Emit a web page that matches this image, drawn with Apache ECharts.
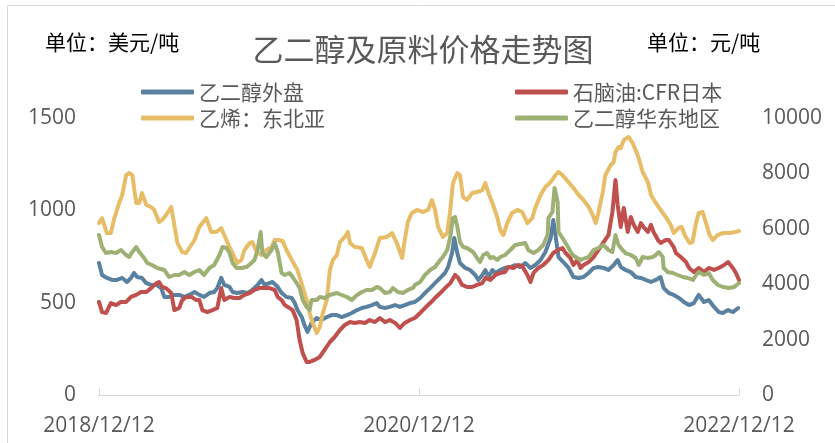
<!DOCTYPE html>
<html>
<head>
<meta charset="utf-8">
<script src="https://cdn.jsdelivr.net/npm/echarts@6/dist/echarts.min.js"></script>
<style>
  html, body { margin: 0; padding: 0; background: #fff; }
  #chart { width: 835px; height: 443px; }
</style>
</head>
<body>
<div id="chart"></div>
<script>
// x values are days counted from 2018/12/12
const xTickLabels = ['2018/12/12', '2020/12/12', '2022/12/12'];
const totalDays = 1461;

// 乙二醇外盘, USD/t
const megCfr = [[0,715],[7,650],[18,634],[30,623],[41,623],[53,634],[64,612],[73,634],[80,661],[87,639],[98,634],[108,606],[119,596],[131,596],[142,579],[149,531],[160,531],[172,542],[183,542],[195,531],[206,542],[218,558],[229,542],[240,531],[252,552],[263,558],[270,579],[279,634],[286,596],[298,585],[305,558],[316,552],[327,558],[339,552],[350,569],[362,596],[371,623],[378,596],[389,606],[396,612],[408,585],[417,552],[428,531],[440,525],[447,498],[453,460],[463,422],[469,379],[476,341],[485,390],[497,417],[508,406],[520,422],[531,433],[543,433],[554,422],[566,433],[577,444],[589,460],[600,471],[611,477],[623,487],[634,498],[641,477],[653,471],[664,477],[676,487],[687,477],[698,487],[710,498],[721,504],[733,525],[744,552],[756,579],[767,606],[779,634],[790,661],[797,693],[806,769],[811,850],[818,769],[824,715],[836,688],[847,677],[859,650],[866,623],[875,650],[882,677],[889,639],[898,677],[905,661],[916,677],[927,688],[939,693],[950,704],[962,693],[973,715],[985,688],[996,704],[1008,731],[1019,774],[1031,850],[1037,948],[1042,866],[1049,747],[1060,720],[1072,688],[1083,639],[1095,634],[1106,639],[1118,661],[1129,688],[1140,693],[1152,688],[1163,677],[1175,704],[1184,731],[1191,693],[1202,677],[1214,666],[1225,639],[1237,634],[1248,623],[1260,612],[1271,623],[1282,639],[1289,579],[1301,552],[1312,542],[1324,525],[1335,504],[1347,487],[1358,498],[1369,542],[1381,504],[1392,514],[1404,477],[1415,449],[1424,444],[1436,460],[1447,449],[1459,471]];

// 石脑油:CFR日本, USD/t
const naphtha = [[0,504],[7,449],[16,444],[27,498],[39,487],[50,504],[62,504],[73,531],[85,542],[96,558],[108,558],[119,579],[131,606],[137,612],[144,585],[153,579],[165,552],[172,460],[183,471],[190,514],[199,531],[211,531],[222,514],[229,514],[236,460],[247,449],[259,460],[270,471],[279,579],[286,514],[298,531],[309,525],[321,525],[332,542],[344,552],[355,569],[366,579],[378,579],[389,579],[401,569],[408,531],[417,514],[424,487],[431,477],[442,460],[451,406],[458,298],[465,227],[474,179],[481,179],[492,190],[504,206],[515,244],[527,287],[538,314],[550,352],[561,379],[573,395],[584,390],[595,395],[607,390],[618,406],[630,395],[641,417],[653,395],[664,406],[676,390],[687,363],[698,390],[710,406],[721,417],[733,444],[744,471],[756,498],[767,525],[779,552],[790,579],[802,606],[813,650],[820,634],[829,596],[840,585],[852,585],[863,596],[875,606],[882,634],[893,623],[905,650],[916,661],[927,666],[934,693],[946,688],[957,704],[966,699],[978,650],[985,612],[992,661],[1003,688],[1014,704],[1026,731],[1037,769],[1047,785],[1058,796],[1065,769],[1076,742],[1083,704],[1092,731],[1099,688],[1106,704],[1118,720],[1129,747],[1140,785],[1152,828],[1163,866],[1172,991],[1179,1164],[1184,1029],[1191,910],[1198,1013],[1207,883],[1214,964],[1221,921],[1230,883],[1237,931],[1243,910],[1253,883],[1260,921],[1266,883],[1276,839],[1282,823],[1294,839],[1301,839],[1312,801],[1317,769],[1328,747],[1340,720],[1347,688],[1358,666],[1369,688],[1381,666],[1392,688],[1404,677],[1415,688],[1427,704],[1436,720],[1447,688],[1454,661],[1461,623]];

// 乙烯：东北亚, USD/t
const ethylene = [[0,931],[7,958],[18,877],[27,877],[34,948],[46,1040],[53,1083],[62,1191],[69,1202],[76,1191],[85,1040],[92,1040],[98,1094],[108,1029],[119,1018],[126,1002],[137,937],[144,948],[153,975],[165,1018],[179,823],[190,774],[199,769],[206,796],[218,839],[229,910],[245,958],[256,883],[268,883],[279,904],[286,866],[298,801],[309,747],[316,715],[325,731],[332,785],[344,823],[350,828],[360,774],[371,758],[382,785],[394,801],[401,839],[412,839],[419,834],[428,785],[440,731],[453,677],[465,585],[474,514],[481,444],[488,390],[497,336],[504,368],[511,444],[520,514],[527,677],[534,731],[543,758],[550,828],[561,856],[568,883],[573,823],[584,801],[600,796],[611,731],[618,693],[630,769],[641,850],[657,856],[669,877],[680,823],[692,742],[698,839],[705,937],[714,986],[726,1002],[740,991],[751,1002],[760,1056],[767,1002],[774,910],[785,856],[795,877],[802,1002],[808,1148],[818,1202],[824,1191],[831,1072],[840,1056],[852,1094],[863,1099],[875,1110],[882,1148],[889,1094],[898,1040],[909,964],[916,893],[923,866],[932,931],[943,986],[955,1002],[966,991],[978,931],[989,958],[996,1013],[1008,1083],[1019,1126],[1031,1153],[1042,1191],[1049,1208],[1058,1191],[1072,1153],[1083,1121],[1095,1083],[1106,1056],[1118,1018],[1127,975],[1134,931],[1140,986],[1150,1099],[1156,1191],[1168,1245],[1175,1262],[1179,1316],[1186,1343],[1191,1337],[1198,1381],[1209,1397],[1218,1365],[1225,1327],[1232,1283],[1241,1208],[1253,1153],[1260,1083],[1271,1040],[1282,1002],[1294,964],[1305,921],[1312,877],[1323,904],[1330,910],[1337,866],[1348,823],[1355,828],[1362,921],[1369,986],[1378,991],[1385,937],[1394,866],[1401,839],[1412,866],[1424,877],[1440,877],[1453,883],[1461,888]];

// 乙二醇华东地区, CNY/t (right axis)
const megEastChina = [[0,5776],[7,5343],[16,5126],[27,5162],[39,5126],[50,5235],[62,5054],[69,4982],[76,5162],[85,5343],[92,5162],[103,4946],[110,4765],[121,4693],[133,4585],[149,4513],[160,4260],[172,4332],[183,4332],[195,4440],[206,4332],[218,4440],[229,4513],[240,4332],[252,4585],[263,4693],[275,5054],[282,5343],[291,5307],[298,5126],[305,4765],[314,4585],[325,4585],[337,4621],[348,4765],[355,4874],[362,5235],[369,5884],[373,5126],[382,4982],[394,5235],[401,5487],[408,5162],[417,4404],[424,4332],[435,4404],[442,4260],[451,4043],[458,3863],[465,3430],[474,3177],[481,3069],[485,3430],[497,3430],[504,3538],[515,3502],[527,3610],[543,3682],[554,3610],[566,3538],[577,3430],[589,3610],[600,3718],[611,3791],[623,3791],[634,3899],[641,3863],[653,3682],[664,3718],[671,3863],[682,3718],[694,3682],[705,3791],[717,3863],[721,3971],[733,4079],[744,4332],[756,4513],[767,4621],[779,4874],[785,4982],[795,5235],[802,5704],[808,6390],[813,6426],[818,6065],[824,5523],[831,5343],[840,5307],[847,5235],[854,5162],[863,4946],[870,4801],[877,5054],[886,5126],[893,4946],[900,4982],[909,4874],[916,4982],[927,5054],[939,5235],[950,5415],[962,5451],[973,5487],[980,5235],[992,5126],[1003,5235],[1014,5415],[1024,5776],[1026,6390],[1035,6606],[1040,7473],[1047,6967],[1049,5884],[1058,5668],[1065,5487],[1072,5307],[1081,5054],[1088,4982],[1099,4874],[1111,4946],[1118,4982],[1129,5235],[1140,5307],[1152,5415],[1163,5235],[1172,5162],[1179,5776],[1186,5415],[1195,5235],[1202,5126],[1214,5054],[1225,4946],[1232,4693],[1241,4982],[1253,4946],[1264,4982],[1271,5054],[1278,5162],[1287,4982],[1289,4585],[1298,4440],[1310,4404],[1321,4332],[1333,4260],[1344,4224],[1356,4152],[1363,4332],[1369,4440],[1381,4332],[1392,4404],[1401,4152],[1413,3971],[1424,3899],[1438,3863],[1450,3899],[1461,4043]];

const seriesNames = ['乙二醇外盘', '石脑油:CFR日本', '乙烯：东北亚', '乙二醇华东地区'];
const seriesColors = ['#5a82a0', '#c0504d', '#e8bd68', '#9fb075'];
const seriesData = [megCfr, naphtha, ethylene, megEastChina];
const seriesAxis = [0, 0, 0, 1];

const textColor = '#595959';
const numFont = "'Open Sans', 'Noto Sans CJK SC', sans-serif";
const cjkFont = "'Noto Sans CJK SC', 'Open Sans', sans-serif";

const legendSlots = [
  { left: 141, top: 81 },
  { left: 515, top: 81 },
  { left: 141, top: 107 },
  { left: 515, top: 107 }
];

const chart = echarts.init(document.getElementById('chart'));

chart.setOption({
  backgroundColor: '#ffffff',
  animation: false,
  graphic: [
    {
      type: 'rect',
      silent: true,
      shape: { x: 7.5, y: 5.5, width: 840, height: 450 },
      style: { fill: 'none', stroke: '#d9d9d9', lineWidth: 1 }
    },
    {
      type: 'text',
      x: 423, y: 49,
      style: {
        text: '乙二醇及原料价格走势图',
        fill: textColor,
        font: '31px ' + cjkFont,
        textAlign: 'center',
        textVerticalAlign: 'middle'
      }
    },
    {
      type: 'text',
      x: 45, y: 42,
      style: {
        text: '单位：美元/吨',
        fill: '#000000',
        font: '21px ' + cjkFont,
        textAlign: 'left',
        textVerticalAlign: 'middle'
      }
    },
    {
      type: 'text',
      x: 647, y: 42,
      style: {
        text: '单位：元/吨',
        fill: '#000000',
        font: '21px ' + cjkFont,
        textAlign: 'left',
        textVerticalAlign: 'middle'
      }
    }
  ],
  legend: seriesNames.map((name, i) => ({
    data: [name],
    left: legendSlots[i].left,
    top: legendSlots[i].top,
    padding: 0,
    icon: 'roundRect',
    itemWidth: 53,
    itemHeight: 5,
    itemGap: 0,
    textStyle: {
      color: textColor,
      fontSize: 21,
      lineHeight: 22,
      fontFamily: cjkFont
    }
  })),
  grid: { left: 99, right: 96, top: 118, bottom: 48, containLabel: false },
  xAxis: {
    type: 'value',
    min: 0,
    max: totalDays,
    interval: totalDays / 2,
    axisLine: { show: true, lineStyle: { color: '#d9d9d9', width: 1 } },
    axisTick: { show: true, inside: true, length: 7, lineStyle: { color: '#d9d9d9' } },
    splitLine: { show: false },
    axisLabel: {
      margin: 21,
      color: textColor,
      fontSize: 21,
      fontFamily: numFont,
      showMinLabel: true,
      showMaxLabel: true,
      formatter: (v) => xTickLabels[Math.round(v / (totalDays / 2))]
    }
  },
  yAxis: [
    {
      type: 'value',
      min: 0, max: 1500, interval: 500,
      axisLine: { show: false },
      axisTick: { show: false },
      splitLine: { show: false },
      axisLabel: {
        margin: 23, color: textColor, fontSize: 21, fontFamily: numFont,
        formatter: (v) => String(v)
      }
    },
    {
      type: 'value',
      min: 0, max: 10000, interval: 2000,
      axisLine: { show: false },
      axisTick: { show: false },
      splitLine: { show: false },
      axisLabel: {
        margin: 23, color: textColor, fontSize: 21, fontFamily: numFont,
        formatter: (v) => String(v)
      }
    }
  ],
  series: seriesNames.map((name, i) => ({
    name: name,
    type: 'line',
    yAxisIndex: seriesAxis[i],
    data: seriesData[i],
    showSymbol: false,
    symbol: 'none',
    smooth: false,
    color: seriesColors[i],
    lineStyle: { width: 4, color: seriesColors[i], cap: 'round', join: 'round' },
    emphasis: { disabled: true }
  }))
});
</script>
</body>
</html>
